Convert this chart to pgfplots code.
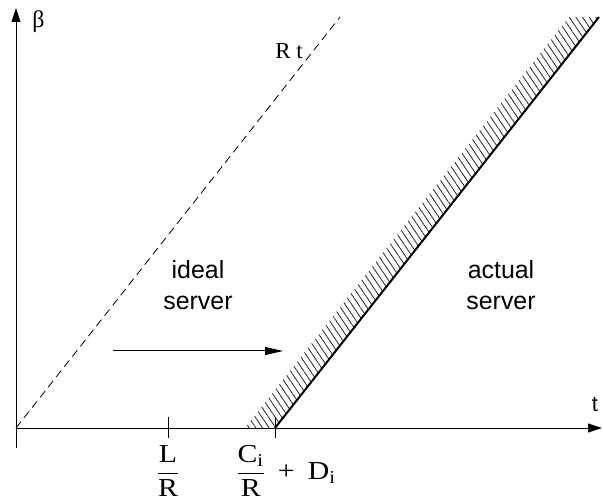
\documentclass[border=0pt]{standalone}
\usepackage{fontspec}
\setmainfont{Liberation Serif}
\setsansfont{Liberation Sans}
\newfontfamily\wideserif[FakeStretch=1.15]{Liberation Serif}
\usepackage{amsmath}
\usepackage{pgfplots}
\pgfplotsset{compat=1.18}
\usetikzlibrary{arrows.meta,patterns.meta}

\newcommand{\w}[1]{\text{\wideserif #1}}

\begin{document}
\begin{tikzpicture}
\begin{axis}[
  x=1bp, y=1bp,
  xmin=0, xmax=586, ymin=-20, ymax=420,
  enlargelimits=false,
  axis lines=middle,
  axis line style={line width=0.9bp, -{Triangle[length=14bp,width=9bp]}},
  xtick={152,259},
  xticklabels={$\dfrac{\w{L}}{\w{R}}$,
               \hspace*{22bp}$\dfrac{\w{C}_{\w{i}}}{\w{R}}$\hspace{13bp}{\wideserif +}\hspace{13bp}$\w{D}_{\w{i}}$},
  ytick=\empty,
  tick align=center,
  major tick length=21bp,
  tick style={black, line width=0.8bp},
  xticklabel style={font=\fontsize{26}{30}\selectfont, anchor=base, inner sep=0pt, yshift=-41bp},
  clip=false,
]
% service curve region of the actual server (hatched band)
\addplot[draw=none, pattern={Lines[angle=-56, distance=5.5bp, line width=0.8bp]},
         pattern color=black!85]
  coordinates {(229,0) (259,0) (583,411) (553,411)};
% ideal server: rate R from the origin
\addplot[black, line width=0.8bp, dash pattern=on 8bp off 5bp]
  coordinates {(0,0) (324,411)};
% actual server: same rate, shifted by the latency
\addplot[black, line width=2bp]
  coordinates {(259,0) (583,411)};
% shift from ideal to actual
\addplot[black, line width=1bp, -{Triangle[length=18bp,width=8bp]}]
  coordinates {(97,77) (267,77)};

\node[font=\fontsize{24}{24}\selectfont] at (axis cs:22.5,406) {β};
\node[font=\fontsize{23}{23}\selectfont] at (axis cs:273,377) {R t};
\node[font=\sffamily\fontsize{22}{22}\selectfont] at (axis cs:579,23) {t};
\node[font=\sffamily\fontsize{25}{31}\selectfont, align=center] at (axis cs:182,143) {ideal\\server};
\node[font=\sffamily\fontsize{25}{31}\selectfont, align=center] at (axis cs:485,143) {actual\\server};

\coordinate (bl) at (axis cs:-16,-73);
\coordinate (tr) at (axis cs:587,428);
\end{axis}
\pgfresetboundingbox
\path (bl) rectangle (tr);
\end{tikzpicture}
\end{document}
